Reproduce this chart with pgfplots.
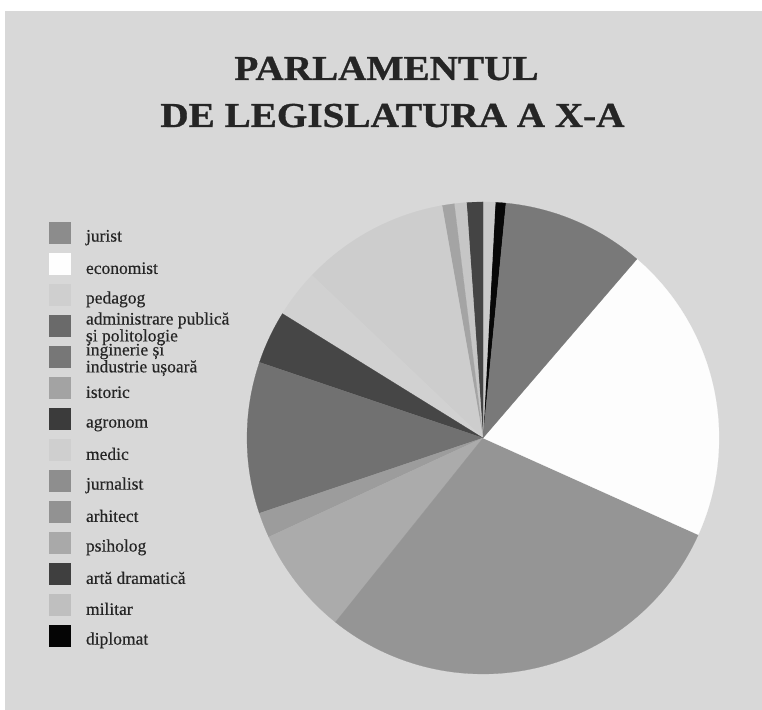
\documentclass[border=0pt]{standalone}
\usepackage{fontspec}
\setmainfont{Liberation Serif}
\newfontfamily\legfont{Liberation Serif}[FakeBold=0.35]
\newfontfamily\titlefont{Liberation Serif Bold}[FakeBold=0.8]
\usepackage{graphicx}
\usepackage{pgfplots}
\pgfplotsset{compat=1.18}
\definecolor{bg}{HTML}{D8D8D8}
\definecolor{titlec}{HTML}{252525}
\definecolor{textc}{HTML}{252525}
% legend colours
\definecolor{Ljurist}{HTML}{8C8C8C}
\definecolor{Leconomist}{HTML}{FEFEFE}
\definecolor{Lpedagog}{HTML}{CFCFCF}
\definecolor{Ladmin}{HTML}{6A6A6A}
\definecolor{Lingin}{HTML}{777777}
\definecolor{Listoric}{HTML}{A3A3A3}
\definecolor{Lagronom}{HTML}{3B3B3B}
\definecolor{Lmedic}{HTML}{CFCFCF}
\definecolor{Ljurnalist}{HTML}{8E8E8E}
\definecolor{Larhitect}{HTML}{929292}
\definecolor{Lpsiholog}{HTML}{A9A9A9}
\definecolor{Larta}{HTML}{3F3F3F}
\definecolor{Lmilitar}{HTML}{BFBFBF}
\definecolor{Ldiplomat}{HTML}{050505}
% slice colours (counter-clockwise from the top)
\definecolor{S1}{HTML}{080808}
\definecolor{S2}{HTML}{CACACA}
\definecolor{S3}{HTML}{444444}
\definecolor{S4}{HTML}{C6C6C6}
\definecolor{S5}{HTML}{A4A4A4}
\definecolor{S6}{HTML}{CDCDCD}
\definecolor{S7}{HTML}{D1D1D1}
\definecolor{S8}{HTML}{464646}
\definecolor{S9}{HTML}{717171}
\definecolor{S10}{HTML}{9C9C9C}
\definecolor{S11}{HTML}{ABABAB}
\definecolor{S12}{HTML}{959595}
\definecolor{S13}{HTML}{FDFDFD}
\definecolor{S14}{HTML}{797979}
% one-line and two-line legend texts
\newcommand{\LE}[1]{\parbox[c][22bp][c]{230bp}{\legfont\fontsize{17.5bp}{12bp}\selectfont\rule{0pt}{14.5bp}#1\rule[-1.1bp]{0pt}{0pt}}}
\newcommand{\LL}[2]{\parbox[c][22bp][c]{230bp}{\legfont\fontsize{17.5bp}{12bp}\selectfont\rule{0pt}{12bp}#1\\#2\rule[-4.6bp]{0pt}{0pt}}}
\begin{document}
\begin{tikzpicture}
\begin{axis}[
  width=762bp, height=710bp, scale only axis,
  xmin=0, xmax=762, ymin=0, ymax=710,
  hide axis, clip=false,
  legend cell align=left,
  legend style={at={(axis cs:49.3,488.3)}, anchor=north west, draw=none, fill=none,
    inner sep=0pt, outer sep=0pt, row sep=9bp,
    nodes={inner sep=0pt, outer sep=0pt, text=textc}},
  legend image code/.code={\fill[#1] (0bp,-11bp) rectangle (22bp,11bp); \path (36.7bp,0bp);},
]
\fill[white] (axis cs:0,0) rectangle (axis cs:762,710);
\fill[bg] (axis cs:5,0) rectangle (axis cs:762,699);

% pie slices: angles in degrees (slice sizes 2.6, 3.0, 4.0, 3.0, 3.0, 36.4, 11.8, 13.1, 37.3, 6.2, 26.5, 104.5, 73.5, 35.1)
\addplot[fill=S1, draw=S1, line width=0.2bp, domain=84.4:87.0, samples=4, forget plot] ({483+236*cos(x)},{272+236*sin(x)}) -- (axis cs:483,272) -- cycle;
\addplot[fill=S2, draw=S2, line width=0.2bp, domain=87.0:90.0, samples=4, forget plot] ({483+236*cos(x)},{272+236*sin(x)}) -- (axis cs:483,272) -- cycle;
\addplot[fill=S3, draw=S3, line width=0.2bp, domain=90.0:94.0, samples=4, forget plot] ({483+236*cos(x)},{272+236*sin(x)}) -- (axis cs:483,272) -- cycle;
\addplot[fill=S4, draw=S4, line width=0.2bp, domain=94.0:97.0, samples=4, forget plot] ({483+236*cos(x)},{272+236*sin(x)}) -- (axis cs:483,272) -- cycle;
\addplot[fill=S5, draw=S5, line width=0.2bp, domain=97.0:100.0, samples=4, forget plot] ({483+236*cos(x)},{272+236*sin(x)}) -- (axis cs:483,272) -- cycle;
\addplot[fill=S6, draw=S6, line width=0.2bp, domain=100.0:136.4, samples=30, forget plot] ({483+236*cos(x)},{272+236*sin(x)}) -- (axis cs:483,272) -- cycle;
\addplot[fill=S7, draw=S7, line width=0.2bp, domain=136.4:148.2, samples=12, forget plot] ({483+236*cos(x)},{272+236*sin(x)}) -- (axis cs:483,272) -- cycle;
\addplot[fill=S8, draw=S8, line width=0.2bp, domain=148.2:161.3, samples=12, forget plot] ({483+236*cos(x)},{272+236*sin(x)}) -- (axis cs:483,272) -- cycle;
\addplot[fill=S9, draw=S9, line width=0.2bp, domain=161.3:198.6, samples=30, forget plot] ({483+236*cos(x)},{272+236*sin(x)}) -- (axis cs:483,272) -- cycle;
\addplot[fill=S10, draw=S10, line width=0.2bp, domain=198.6:204.8, samples=6, forget plot] ({483+236*cos(x)},{272+236*sin(x)}) -- (axis cs:483,272) -- cycle;
\addplot[fill=S11, draw=S11, line width=0.2bp, domain=204.8:231.3, samples=22, forget plot] ({483+236*cos(x)},{272+236*sin(x)}) -- (axis cs:483,272) -- cycle;
\addplot[fill=S12, draw=S12, line width=0.2bp, domain=231.3:335.8, samples=80, forget plot] ({483+236*cos(x)},{272+236*sin(x)}) -- (axis cs:483,272) -- cycle;
\addplot[fill=S13, draw=S13, line width=0.2bp, domain=335.8:409.3, samples=60, forget plot] ({483+236*cos(x)},{272+236*sin(x)}) -- (axis cs:483,272) -- cycle;
\addplot[fill=S14, draw=S14, line width=0.2bp, domain=409.3:444.4, samples=30, forget plot] ({483+236*cos(x)},{272+236*sin(x)}) -- (axis cs:483,272) -- cycle;

% legend
\addlegendimage{fill=Ljurist, draw=none}\addlegendentry{\LE{jurist}}
\addlegendimage{fill=Leconomist, draw=none}\addlegendentry{\LE{economist}}
\addlegendimage{fill=Lpedagog, draw=none}\addlegendentry{\LE{pedagog}}
\addlegendimage{fill=Ladmin, draw=none}\addlegendentry{\LL{administrare publică}{și politologie}}
\addlegendimage{fill=Lingin, draw=none}\addlegendentry{\LL{inginerie și}{industrie ușoară}}
\addlegendimage{fill=Listoric, draw=none}\addlegendentry{\LE{istoric}}
\addlegendimage{fill=Lagronom, draw=none}\addlegendentry{\LE{agronom}}
\addlegendimage{fill=Lmedic, draw=none}\addlegendentry{\LE{medic}}
\addlegendimage{fill=Ljurnalist, draw=none}\addlegendentry{\LE{jurnalist}}
\addlegendimage{fill=Larhitect, draw=none}\addlegendentry{\LE{arhitect}}
\addlegendimage{fill=Lpsiholog, draw=none}\addlegendentry{\LE{psiholog}}
\addlegendimage{fill=Larta, draw=none}\addlegendentry{\LE{artă dramatică}}
\addlegendimage{fill=Lmilitar, draw=none}\addlegendentry{\LE{militar}}
\addlegendimage{fill=Ldiplomat, draw=none}\addlegendentry{\LE{diplomat}}

% title
\node[anchor=base, text=titlec, font=\titlefont\fontsize{35bp}{40bp}\selectfont] at (axis cs:386.5,630) {\scalebox{1.12}[1]{PARLAMENTUL}};
\node[anchor=base, text=titlec, font=\titlefont\fontsize{35bp}{40bp}\selectfont] at (axis cs:392.5,583) {\scalebox{1.12}[1]{DE LEGISLATURA A X-A}};
\end{axis}
\end{tikzpicture}
\end{document}
